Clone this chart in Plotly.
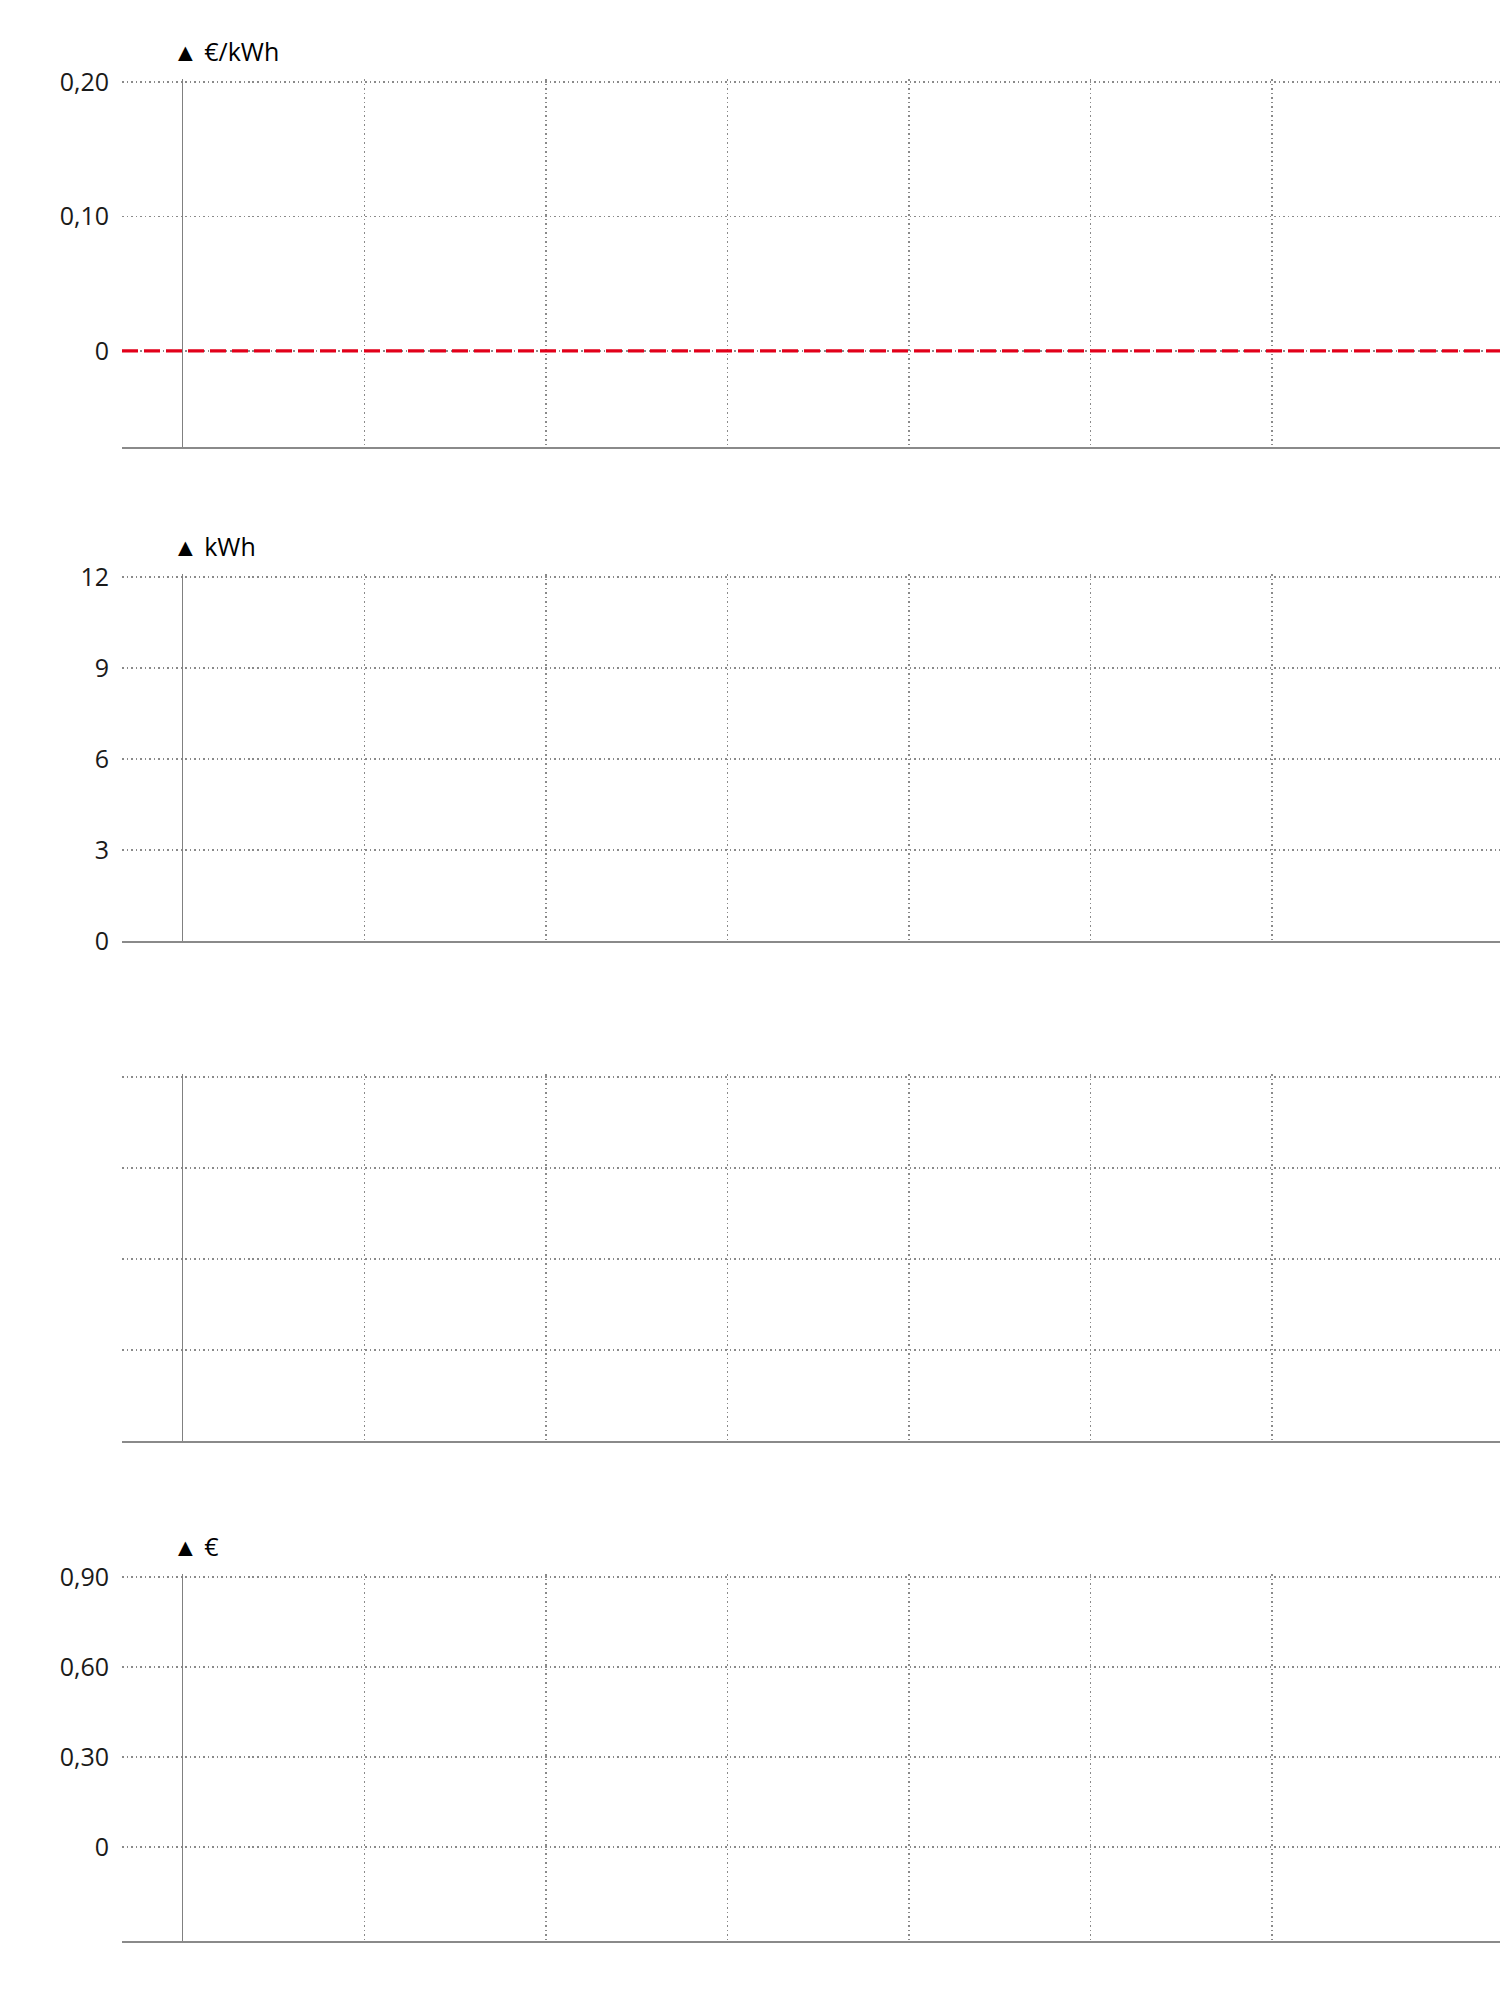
import plotly.graph_objects as go
from plotly.subplots import make_subplots

# ---- data ----
hour_ticks = [0, 4, 8, 12, 16, 20, 24]
hour_range = [-1.344, 29.02]

price_ticks = [0, 0.10, 0.20]
price_labels = ["0", "0,10", "0,20"]
price_range = [-0.0714, 0.2022]
reference_price = 0

energy_ticks = [0, 3, 6, 9, 12]
energy_labels = ["0", "3", "6", "9", "12"]
energy_range = [0, 12.1]

energy2_ticks = [0, 3, 6, 9, 12]
energy2_range = [0, 12.1]

cost_ticks = [0, 0.30, 0.60, 0.90]
cost_labels = ["0", "0,30", "0,60", "0,90"]
cost_range = [-0.314, 0.91]

panel_titles = ["▲ €/kWh", "▲ kWh", "", "▲ €"]

# ---- layout constants ----
W, H = 1500, 1990
GRID = "#8a8a8a"
FONT = "Open Sans"
TXT = "#1a1a1a"

# pixel positions (top, bottom) of each plot area
panels_px = [(79, 447), (574, 941), (1074, 1441), (1574, 1941)]
L = 122

fig = make_subplots(rows=4, cols=1)

for r in range(1, 5):
    fig.add_trace(go.Scatter(x=[], y=[], mode="lines", showlegend=False), row=r, col=1)

for i, (top, bot) in enumerate(panels_px):
    r = i + 1
    dom = [1 - bot / H, 1 - top / H]
    fig.update_xaxes(
        row=r, col=1, domain=[0, 1],
        range=hour_range, tickvals=hour_ticks, showticklabels=False,
        showgrid=True, gridcolor=GRID, gridwidth=1.5, griddash="1.5px,3px",
        zeroline=True, zerolinecolor="#808080", zerolinewidth=1,
        showline=True, linecolor=GRID, linewidth=1.5,
        ticks="", fixedrange=True, automargin=False,
    )
    fig.update_yaxes(row=r, col=1, domain=dom, automargin=False)

ycfg = dict(
    showgrid=True, gridcolor=GRID, gridwidth=1.6, griddash="1.6px,2.9px",
    zeroline=False, showline=False, ticks="",
    tickfont=dict(family=FONT, size=25, color=TXT),
    ticklabelstandoff=12, fixedrange=True,
)
fig.update_yaxes(row=1, col=1, range=price_range, tickvals=price_ticks, ticktext=price_labels, **ycfg)
fig.update_yaxes(row=2, col=1, range=energy_range, tickvals=energy_ticks, ticktext=energy_labels, **ycfg)
fig.update_yaxes(row=3, col=1, range=energy2_range, tickvals=energy2_ticks, showticklabels=False, **ycfg)
fig.update_yaxes(row=4, col=1, range=cost_range, tickvals=cost_ticks, ticktext=cost_labels, **ycfg)

fig.add_hline(y=reference_price, row=1, col=1,
              line=dict(color="#e2001a", width=3.2, dash="16px,6px"))

for i, t in enumerate(panel_titles):
    if not t:
        continue
    top = panels_px[i][0] + 3
    fig.add_annotation(
        text=t, xref="paper", yref="paper",
        x=(171 - L) / (W - L), y=1 - (top - 31) / H,
        xanchor="left", yanchor="middle", showarrow=False,
        font=dict(family=FONT, size=25, color="#000000"),
    )

fig.update_layout(
    width=W, height=H,
    margin=dict(l=L, r=0, t=0, b=0, pad=0, autoexpand=False),
    paper_bgcolor="white", plot_bgcolor="white",
    showlegend=False,
    font=dict(family=FONT, color=TXT),
)

fig.write_html(
    "out.html",
    config={"displayModeBar": False, "staticPlot": True},
    post_script="document.body.style.margin='0';document.body.style.overflow='hidden';",
)
